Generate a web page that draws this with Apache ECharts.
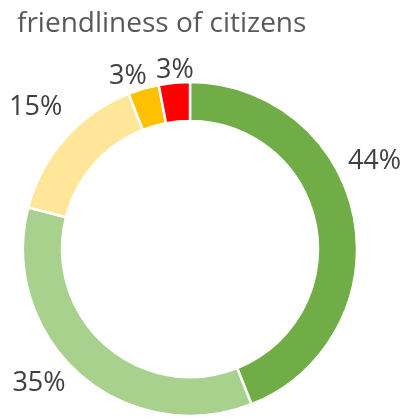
<!DOCTYPE html>
<html><head><meta charset="utf-8">
<script src="https://cdn.jsdelivr.net/npm/echarts@6/dist/echarts.min.js"></script>
<style>html,body{margin:0;padding:0;background:#fff}#c{width:408px;height:418px}</style>
</head><body><div id="c"></div>
<script>
const title = 'friendliness of citizens';
const categories = ['very friendly', 'friendly', 'neutral', 'unfriendly', 'very unfriendly'];
const values = [44, 35, 15, 3, 3];
const colors = ['#70AD47', '#A9D18E', '#FFE699', '#FFC000', '#FF0000'];

// label nudges (layout only)
const labelNudge = [[-17, -55], [-5, 5], [7, -27], [10, -7], [25, -6]];

const chart = echarts.init(document.getElementById('c'), null, {renderer: 'canvas'});
chart.setOption({
  animation: false,
  title: {
    text: title, left: 12, top: 5,
    textStyle: {fontFamily: 'Open Sans', fontSize: 28, fontWeight: 'normal', color: '#595959'}
  },
  series: [{
    type: 'pie',
    center: [190, 249],
    radius: [128, 167],
    startAngle: 90,
    clockwise: true,
    avoidLabelOverlap: false,
    itemStyle: {borderColor: '#fff', borderWidth: 2.5},
    label: {
      show: true, position: 'outside',
      formatter: p => p.value + '%',
      fontFamily: 'Open Sans', fontSize: 27, color: '#404040'
    },
    labelLine: {show: false, length: 6, length2: 0},
    labelLayout: p => ({dx: labelNudge[p.dataIndex][0], dy: labelNudge[p.dataIndex][1], hideOverlap: false}),
    data: categories.map((n, i) => ({name: n, value: values[i], itemStyle: {color: colors[i]}}))
  }]
});
</script></body></html>
